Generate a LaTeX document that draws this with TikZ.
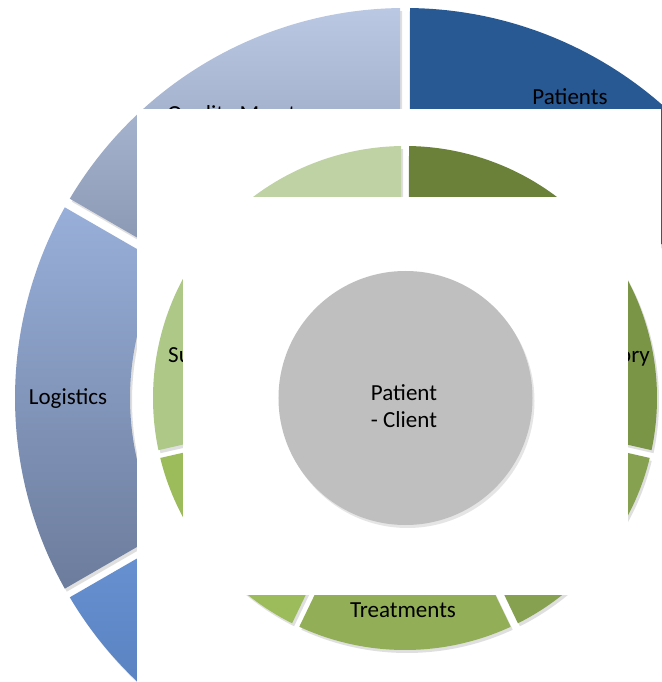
\documentclass[tikz,border=0pt]{standalone}
\usepackage{fontspec}
\setmainfont{Carlito}
\usetikzlibrary{shadows}
\definecolor{patblue}{RGB}{41,89,147}
\definecolor{qmtop}{RGB}{186,200,227}
\definecolor{qmbot}{RGB}{137,150,178}
\definecolor{logtop}{RGB}{152,175,217}
\definecolor{logbot}{RGB}{108,124,156}
\definecolor{bltop}{RGB}{104,146,209}
\definecolor{blbot}{RGB}{80,120,184}
\definecolor{gA}{RGB}{107,129,57}
\definecolor{gB}{RGB}{122,149,70}
\definecolor{gC}{RGB}{134,162,80}
\definecolor{gD}{RGB}{146,174,86}
\definecolor{gE}{RGB}{156,187,90}
\definecolor{gF}{RGB}{174,200,136}
\definecolor{gG}{RGB}{190,210,164}
\definecolor{hub}{RGB}{191,191,191}
\newcommand\ringseg[6]{%
  \pgfmathsetmacro\rsdo{deg(#6/#5)}%
  \pgfmathsetmacro\rsdi{deg(#6/#4)}%
  \pgfmathsetmacro\rsaa{#2+\rsdo}\pgfmathsetmacro\rsab{#3-\rsdo}%
  \pgfmathsetmacro\rsba{#3-\rsdi}\pgfmathsetmacro\rsbb{#2+\rsdi}%
  \path[#1] (\rsaa:#5pt) arc[start angle=\rsaa, end angle=\rsab, radius=#5pt]
    -- (\rsba:#4pt) arc[start angle=\rsba, end angle=\rsbb, radius=#4pt] -- cycle;}
\tikzset{
  segshadow/.style={drop shadow={shadow xshift=2pt,shadow yshift=-3pt,opacity=.25}},
  lbl/.style={font=\fontsize{23}{27}\selectfont, text=black, inner sep=0pt, anchor=base},
  panel/.style={fill=white, draw=none}
}
\begin{document}
\begin{tikzpicture}[x=1pt,y=1pt]
\useasboundingbox[fill=white] (-405,-284) rectangle (256,398);
% outer ring
\ringseg{fill=patblue,segshadow}{30}{90}{275}{390}{5}
\ringseg{top color=qmtop,bottom color=qmbot,segshadow}{90}{150}{275}{390}{5}
\ringseg{top color=logtop,bottom color=logbot,segshadow}{150}{210}{275}{390}{5}
\ringseg{top color=bltop,bottom color=blbot,segshadow}{210}{270}{275}{390}{5}
\node[lbl] (patients) at (165,293) {Patients};
\node[lbl,anchor=base west] (quality) at (-238,276) {Quality Mgmt};
\node[lbl] (logistics) at (-337,-7) {Logistics};
% outer panel
\path[panel] (-268,289) rectangle (256,-284);
% middle ring
\foreach \k/\c in {0/gG,1/gF,2/gE,3/gD,4/gC,5/gB,6/gA}{
  \pgfmathsetmacro\sa{90+\k*360/7}
  \pgfmathsetmacro\sb{90+(\k+1)*360/7}
  \ringseg{fill=\c,segshadow}{\sa}{\sb}{180}{252}{4}
}
\node[lbl,anchor=base west] (su) at (-237,35) {Su};
\node[lbl,anchor=base east] (ory) at (245,35) {ory};
\node[lbl] (treat) at (-2,-219) {Treatments};
% inner panel
\path[panel] (-222,201) rectangle (223,-197);
% hub
\node[circle, fill=hub, minimum size=254pt, inner sep=0pt,
  drop shadow={shadow xshift=2pt,shadow yshift=-3pt,opacity=.2}] (hubc) at (0.5,0) {};
\node[lbl] (pat) at (-1,-3) {Patient};
\node[lbl] (cli) at (-1,-30) {- Client};
\end{tikzpicture}
\end{document}
